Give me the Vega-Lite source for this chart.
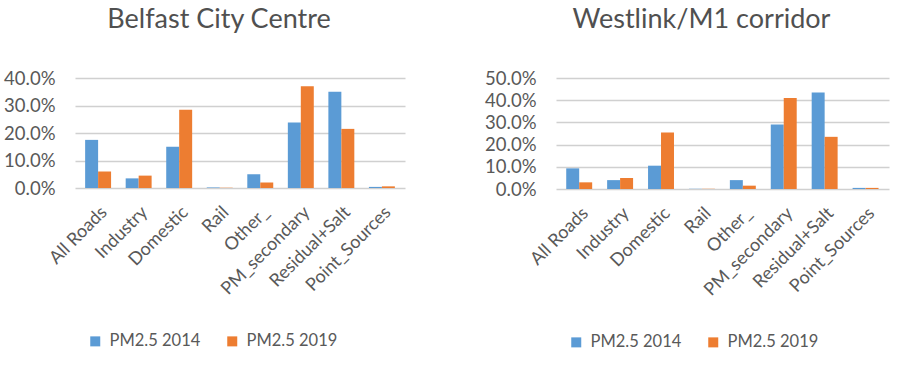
{
  "$schema": "https://vega.github.io/schema/vega-lite/v6.json",
  "background": "white",
  "padding": {"left": 3, "top": 6, "right": 5, "bottom": 5},
  "datasets": {
    "belfast": [
      {"source": "All Roads", "series": "PM2.5 2014", "share": 0.175},
      {"source": "All Roads", "series": "PM2.5 2019", "share": 0.06},
      {"source": "Industry", "series": "PM2.5 2014", "share": 0.035},
      {"source": "Industry", "series": "PM2.5 2019", "share": 0.045},
      {"source": "Domestic", "series": "PM2.5 2014", "share": 0.15},
      {"source": "Domestic", "series": "PM2.5 2019", "share": 0.285},
      {"source": "Rail", "series": "PM2.5 2014", "share": 0.002},
      {"source": "Rail", "series": "PM2.5 2019", "share": 0.001},
      {"source": "Other_", "series": "PM2.5 2014", "share": 0.05},
      {"source": "Other_", "series": "PM2.5 2019", "share": 0.02},
      {"source": "PM_secondary", "series": "PM2.5 2014", "share": 0.238},
      {"source": "PM_secondary", "series": "PM2.5 2019", "share": 0.37},
      {"source": "Residual+Salt", "series": "PM2.5 2014", "share": 0.35},
      {"source": "Residual+Salt", "series": "PM2.5 2019", "share": 0.215},
      {"source": "Point_Sources", "series": "PM2.5 2014", "share": 0.004},
      {"source": "Point_Sources", "series": "PM2.5 2019", "share": 0.006}
    ],
    "westlink": [
      {"source": "All Roads", "series": "PM2.5 2014", "share": 0.093},
      {"source": "All Roads", "series": "PM2.5 2019", "share": 0.03},
      {"source": "Industry", "series": "PM2.5 2014", "share": 0.04},
      {"source": "Industry", "series": "PM2.5 2019", "share": 0.05},
      {"source": "Domestic", "series": "PM2.5 2014", "share": 0.105},
      {"source": "Domestic", "series": "PM2.5 2019", "share": 0.255},
      {"source": "Rail", "series": "PM2.5 2014", "share": 0.001},
      {"source": "Rail", "series": "PM2.5 2019", "share": 0.001},
      {"source": "Other_", "series": "PM2.5 2014", "share": 0.04},
      {"source": "Other_", "series": "PM2.5 2019", "share": 0.015},
      {"source": "PM_secondary", "series": "PM2.5 2014", "share": 0.29},
      {"source": "PM_secondary", "series": "PM2.5 2019", "share": 0.41},
      {"source": "Residual+Salt", "series": "PM2.5 2014", "share": 0.435},
      {"source": "Residual+Salt", "series": "PM2.5 2019", "share": 0.235},
      {"source": "Point_Sources", "series": "PM2.5 2014", "share": 0.005},
      {"source": "Point_Sources", "series": "PM2.5 2019", "share": 0.005}
    ]
  },
  "hconcat": [
    {
      "data": {"name": "belfast"},
      "title": {"text": "Belfast City Centre", "dx": -21},
      "width": 330,
      "height": 110,
      "mark": {"type": "bar"},
      "encoding": {
        "x": {"field": "source", "type": "nominal", "sort": null, "title": null,
              "scale": {"paddingInner": 0.36, "paddingOuter": 0.25}},
        "xOffset": {"field": "series", "type": "nominal"},
        "y": {"field": "share", "type": "quantitative", "title": null,
              "scale": {"domain": [0, 0.4]},
              "axis": {"format": ".1%", "values": [0, 0.1, 0.2, 0.3, 0.4]}},
        "color": {"field": "series", "type": "nominal",
                  "scale": {"domain": ["PM2.5 2014", "PM2.5 2019"], "range": ["#5B9BD5", "#ED7D31"]},
                  "legend": {"title": null, "orient": "none", "direction": "horizontal", "legendX": 12, "legendY": 255}}
      }
    },
    {
      "data": {"name": "westlink"},
      "title": {"text": "Westlink/M1 corridor", "dx": -21},
      "width": 333,
      "height": 111,
      "mark": {"type": "bar"},
      "encoding": {
        "x": {"field": "source", "type": "nominal", "sort": null, "title": null,
              "scale": {"paddingInner": 0.36, "paddingOuter": 0.25}},
        "xOffset": {"field": "series", "type": "nominal"},
        "y": {"field": "share", "type": "quantitative", "title": null,
              "scale": {"domain": [0, 0.5]},
              "axis": {"format": ".1%", "values": [0, 0.1, 0.2, 0.3, 0.4, 0.5]}},
        "color": {"field": "series", "type": "nominal",
                  "scale": {"domain": ["PM2.5 2014", "PM2.5 2019"], "range": ["#5B9BD5", "#ED7D31"]},
                  "legend": {"title": null, "orient": "none", "direction": "horizontal", "legendX": 12, "legendY": 256}}
      }
    }
  ],
  "spacing": 79,
  "resolve": {"scale": {"color": "independent", "y": "independent", "x": "independent"}},
  "config": {
    "font": "Lato",
    "view": {"stroke": null},
    "title": {"fontSize": 27, "font": "Lato", "fontWeight": "normal", "color": "#505050", "offset": 35},
    "axisY": {"domain": false, "ticks": false, "labelFontSize": 18.5, "labelColor": "#595959", "labelPadding": 20, "gridColor": "#d0d0d0", "gridWidth": 1.5},
    "axisX": {"labelAngle": -45, "ticks": false, "domain": false, "grid": false, "labelFontSize": 18, "labelColor": "#595959", "labelPadding": 15},
    "legend": {"labelFontSize": 16.5, "labelColor": "#595959", "symbolType": "square", "symbolSize": 100, "columnPadding": 23, "symbolStrokeWidth": 0, "labelOffset": 6}
  }
}
